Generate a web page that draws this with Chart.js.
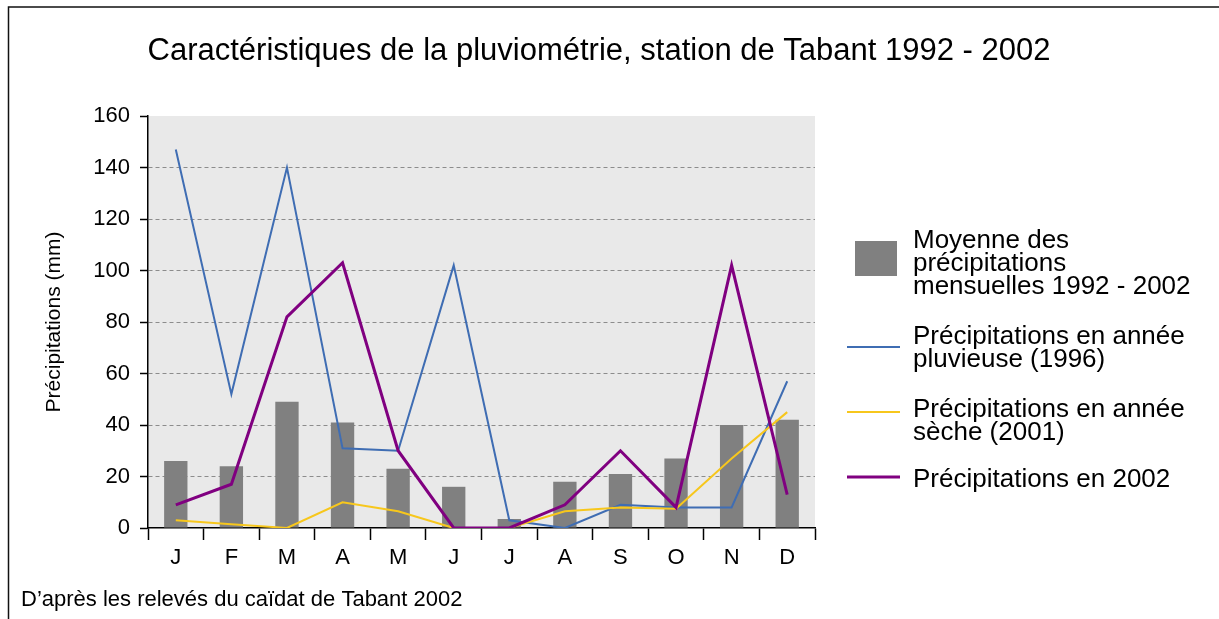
<!DOCTYPE html>
<html>
<head>
<meta charset="utf-8">
<script src="https://cdn.jsdelivr.net/npm/chart.js@4/dist/chart.umd.min.js"></script>
<style>
  html, body { margin: 0; padding: 0; background: #fff; }
  #wrap { width: 1219px; height: 619px; }
</style>
</head>
<body>
<div id="wrap"><canvas id="pluvioChart" width="1219" height="619"></canvas></div>
<script>
const months = ['J', 'F', 'M', 'A', 'M', 'J', 'J', 'A', 'S', 'O', 'N', 'D'];
const moyenne = [26, 24, 49, 41, 23, 16, 3.5, 18, 21, 27, 40, 42];
const pluvieuse1996 = [147, 52, 140, 31, 30, 102, 3, 0, 9, 8, 8, 57];
const seche2001 = [3, 1.5, 0, 10, 6.5, 0, 0, 6.5, 8, 7.5, 27, 45];
const annee2002 = [9, 17, 82, 103, 30, 0, 0, 9, 30, 8, 102, 13];
const yTicks = [0, 20, 40, 60, 80, 100, 120, 140, 160];

const titleText = 'Caractéristiques de la pluviométrie, station de Tabant 1992 - 2002';
const sourceText = 'D\u2019après les relevés du caïdat de Tabant 2002';
const legendLines = [
    ['Moyenne des', 'précipitations', 'mensuelles 1992 - 2002'],
    ['Précipitations en année', 'pluvieuse (1996)'],
    ['Précipitations en année', 'sèche (2001)'],
    ['Précipitations en 2002']
];

const FONT = '"Liberation Sans", Arial, sans-serif';

// background, title, legend, source and frame
const decor = {
    id: 'decor',
    beforeDraw(chart) {
        const { ctx, chartArea: a } = chart;
        ctx.save();
        ctx.fillStyle = '#fff';
        ctx.fillRect(0, 0, chart.width, chart.height);
        ctx.fillStyle = '#e9e9e9';
        ctx.fillRect(a.left, a.top, a.right - a.left, a.bottom - a.top);
        ctx.restore();
    },
    afterDraw(chart) {
        const ctx = chart.ctx;
        ctx.save();
        ctx.fillStyle = '#000';
        ctx.textBaseline = 'alphabetic';

        ctx.font = '31px ' + FONT;
        ctx.textAlign = 'center';
        ctx.fillText(titleText, 599, 60);

        ctx.font = '22px ' + FONT;
        ctx.textAlign = 'left';
        ctx.fillText(sourceText, 21, 606);

        // legend
        const baselines = [248, 344, 417, 487];
        const markY = [258, 347, 412, 477];
        ctx.font = '26px ' + FONT;
        chart.data.datasets.forEach((ds, i) => {
            if (ds.type === 'bar') {
                ctx.fillStyle = ds.backgroundColor;
                ctx.fillRect(855, 241, 42, 35);
            } else {
                ctx.strokeStyle = ds.borderColor;
                ctx.lineWidth = ds.borderWidth;
                ctx.beginPath();
                ctx.moveTo(847, markY[i]);
                ctx.lineTo(900, markY[i]);
                ctx.stroke();
            }
            ctx.fillStyle = '#000';
            legendLines[i].forEach((t, k) => ctx.fillText(t, 913, baselines[i] + k * 23));
        });

        // frame (only top and left edges show)
        ctx.strokeStyle = '#111';
        ctx.lineWidth = 1.5;
        ctx.beginPath();
        ctx.moveTo(8.5, 619);
        ctx.lineTo(8.5, 7);
        ctx.lineTo(1219, 7);
        ctx.stroke();
        ctx.restore();
    }
};

const ctx = document.getElementById('pluvioChart').getContext('2d');

new Chart(ctx, {
    data: {
        labels: months,
        datasets: [
            {
                type: 'bar',
                label: 'Moyenne des précipitations mensuelles 1992 - 2002',
                data: moyenne,
                backgroundColor: '#808080',
                barPercentage: 0.42,
                categoryPercentage: 1,
                order: 5
            },
            {
                type: 'line',
                label: 'Précipitations en année pluvieuse (1996)',
                data: pluvieuse1996,
                borderColor: '#3f6db3',
                borderWidth: 2,
                pointRadius: 0,
                tension: 0,
                order: 3
            },
            {
                type: 'line',
                label: 'Précipitations en année sèche (2001)',
                data: seche2001,
                borderColor: '#f7c71c',
                borderWidth: 2,
                pointRadius: 0,
                tension: 0,
                order: 2
            },
            {
                type: 'line',
                label: 'Précipitations en 2002',
                data: annee2002,
                borderColor: '#800080',
                borderWidth: 3,
                pointRadius: 0,
                tension: 0,
                order: 1
            }
        ]
    },
    options: {
        responsive: false,
        animation: false,
        devicePixelRatio: 1,
        layout: { padding: { left: 30, right: 404, top: 116, bottom: 41 } },
        plugins: {
            legend: { display: false },
            title: { display: false },
            tooltip: { enabled: false }
        },
        scales: {
            x: {
                offset: true,
                afterFit: s => { s.height = 50; },
                ticks: { color: '#000', font: { family: FONT, size: 22 }, padding: 5 },
                grid: { offset: true, drawOnChartArea: false, drawTicks: true, tickLength: 12, tickColor: '#000', tickWidth: 1.5 },
                border: { color: '#000', width: 1.5 }
            },
            y: {
                min: 0,
                max: 160,
                afterFit: s => { s.width = 118; },
                afterBuildTicks: s => { s.ticks = yTicks.map(v => ({ value: v })); },
                ticks: { color: '#000', font: { family: FONT, size: 22 }, padding: 10 },
                title: {
                    display: true,
                    text: 'Précipitations (mm)',
                    color: '#000',
                    font: { family: FONT, size: 21 },
                    padding: { top: 12, bottom: 0 }
                },
                grid: {
                    color: c => (c.tick && (c.tick.value === 0 || c.tick.value === 160)) ? 'rgba(0,0,0,0)' : '#8c8c8c',
                    lineWidth: 1,
                    tickLength: 8,
                    tickColor: '#000',
                    tickWidth: 1.5,
                    tickBorderDash: []
                },
                border: { color: '#000', width: 1.5, dash: [4, 3] }
            }
        }
    },
    plugins: [decor]
});
</script>
</body>
</html>
